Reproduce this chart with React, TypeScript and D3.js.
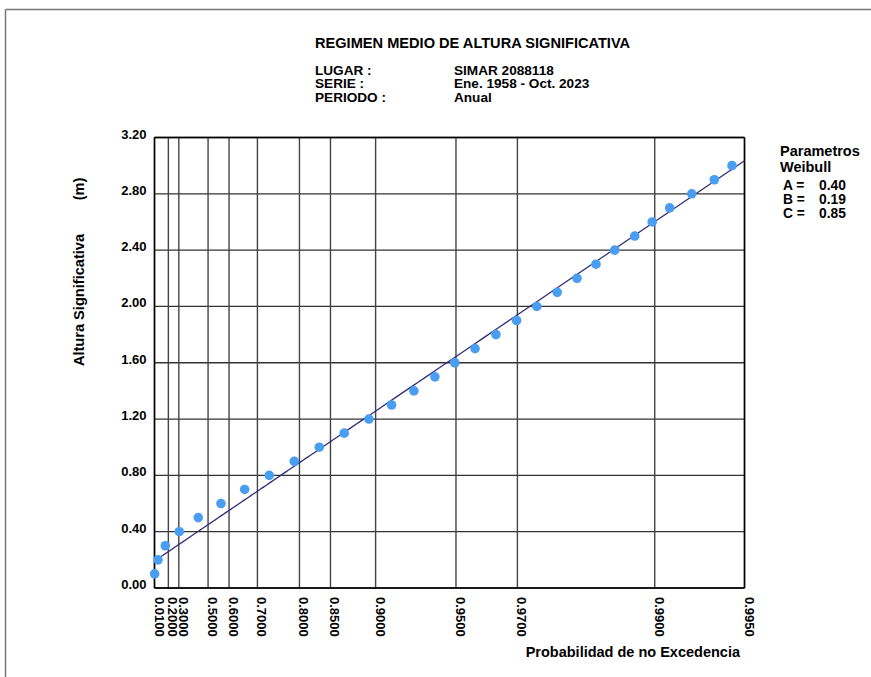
import React from "react";
import * as d3 from "d3";

// ---- data ----
const heights = [0.1, 0.2, 0.3, 0.4, 0.5, 0.6, 0.7, 0.8, 0.9, 1.0, 1.1, 1.2, 1.3, 1.4, 1.5, 1.6, 1.7, 1.8, 1.9, 2.0, 2.1, 2.2, 2.3, 2.4, 2.5, 2.6, 2.7, 2.8, 2.9, 3.0];
const probs = [0.0125, 0.0711, 0.1662, 0.304, 0.4426, 0.5647, 0.6591, 0.7329, 0.7899, 0.8337, 0.8676, 0.8939, 0.9131, 0.9284, 0.9402, 0.9495, 0.9574, 0.9642, 0.9698, 0.9744, 0.9783, 0.9815, 0.9841, 0.9863, 0.9883, 0.9898, 0.9911, 0.9925, 0.9937, 0.9945];
const xTicks = [0.01, 0.2, 0.3, 0.5, 0.6, 0.7, 0.8, 0.85, 0.9, 0.95, 0.97, 0.99, 0.995];
const yTicks = [0, 0.4, 0.8, 1.2, 1.6, 2.0, 2.4, 2.8, 3.2];
const paramA = 0.4;
const paramB = 0.19;
const paramC = 0.85;
const infoLabels = ["LUGAR :", "SERIE :", "PERIODO :"];
const infoValues = ["SIMAR 2088118", "Ene. 1958 - Oct. 2023", "Anual"];

const FONT = "'Liberation Sans', Arial, Helvetica, sans-serif";

export default function App() {
  const left = 154.5, right = 744.5, top = 137.5, bottom = 588;
  const tf = (p: number) => Math.pow(-Math.log(1 - p), 1 / paramC);
  const x = d3.scaleLinear().domain([tf(0.01), tf(0.995)]).range([left, right]);
  const y = d3.scaleLinear().domain([0, 3.2]).range([bottom, top]);
  const px = (p: number) => x(tf(p));

  const fitP = d3.range(0, 201).map((i) => 0.01 + (0.995 - 0.01) * (i / 200));
  const fitLine = d3
    .line<number>()
    .x((p) => px(p))
    .y((p) => y(paramB + paramA * tf(p)));

  const gridColor = "#333";

  return (
    <svg width={871} height={677} style={{ position: "absolute", left: 0, top: 0 }} fontFamily={FONT}>
      <rect x={0} y={0} width={871} height={677} fill="#fff" />
      {/* page border */}
      <line x1={5.5} y1={9.5} x2={871} y2={9.5} stroke="#777" strokeWidth={1.5} />
      <line x1={5.5} y1={9.5} x2={5.5} y2={677} stroke="#777" strokeWidth={1.5} />

      {/* title */}
      <text x={315} y={47.7} fontSize={14.6} fontWeight="bold" fill="#000">
        REGIMEN MEDIO DE ALTURA SIGNIFICATIVA
      </text>
      {infoLabels.map((t, i) => (
        <text key={t} x={315} y={74.5 + i * 13.5} fontSize={13.6} fontWeight="bold" fill="#000">
          {t}
        </text>
      ))}
      {infoValues.map((t, i) => (
        <text key={t} x={454} y={74.5 + i * 13.5} fontSize={13.6} fontWeight="bold" fill="#000">
          {t}
        </text>
      ))}

      {/* horizontal grid */}
      {yTicks.map((v) => (
        <line key={"h" + v} x1={left} x2={right} y1={y(v)} y2={y(v)} stroke={gridColor} strokeWidth={1.3} />
      ))}
      {/* vertical grid */}
      {xTicks.map((p) => (
        <line key={"v" + p} x1={px(p)} x2={px(p)} y1={top} y2={bottom} stroke="#444" strokeWidth={1.4} />
      ))}
      {/* axes frame */}
      <line x1={left} x2={left} y1={top} y2={bottom} stroke="#000" strokeWidth={1.5} />
      <line x1={right} x2={right} y1={top} y2={bottom} stroke="#000" strokeWidth={1.5} />
      <line x1={left} x2={right} y1={bottom} y2={bottom} stroke="#000" strokeWidth={1.5} />
      <line x1={left} x2={right} y1={top} y2={top} stroke="#000" strokeWidth={1.3} />

      {/* y tick labels */}
      {yTicks.map((v) => (
        <text key={"yl" + v} x={146.5} y={y(v) + 1} fontSize={13} fontWeight="bold" textAnchor="end" fill="#000">
          {v.toFixed(2)}
        </text>
      ))}
      {/* x tick labels */}
      {xTicks.map((p) => (
        <text
          key={"xl" + p}
          transform={`translate(${px(p)},597) rotate(90)`}
          fontSize={13}
          fontWeight="bold"
          fill="#000"
        >
          {p.toFixed(4)}
        </text>
      ))}

      {/* fitted line */}
      <path d={fitLine(fitP) || ""} fill="none" stroke="#2f2c78" strokeWidth={1.3} />

      {/* points */}
      {heights.map((h, i) => (
        <circle key={"pt" + i} cx={px(probs[i])} cy={y(h)} r={4.8} fill="#4a9ef2" />
      ))}

      {/* axis titles */}
      <text transform="translate(84,300) rotate(-90)" fontSize={14.6} fontWeight="bold" textAnchor="middle" fill="#000">
        Altura Significativa
      </text>
      <text transform="translate(84,189) rotate(-90)" fontSize={14.6} fontWeight="bold" textAnchor="middle" fill="#000">
        (m)
      </text>
      <text x={740} y={657.3} fontSize={14.5} fontWeight="bold" textAnchor="end" fill="#000">
        Probabilidad de no Excedencia
      </text>

      {/* parameters */}
      <text x={780} y={156} fontSize={14.5} fontWeight="bold" fill="#000">Parametros</text>
      <text x={780} y={171.5} fontSize={14.5} fontWeight="bold" fill="#000">Weibull</text>
      {[
        ["A =", paramA],
        ["B =", paramB],
        ["C =", paramC],
      ].map(([lab, val], i) => (
        <g key={"p" + i}>
          <text x={783} y={190 + i * 14} fontSize={13.8} fontWeight="bold" fill="#000">{lab as string}</text>
          <text x={819} y={190 + i * 14} fontSize={13.8} fontWeight="bold" fill="#000">{(val as number).toFixed(2)}</text>
        </g>
      ))}
    </svg>
  );
}
